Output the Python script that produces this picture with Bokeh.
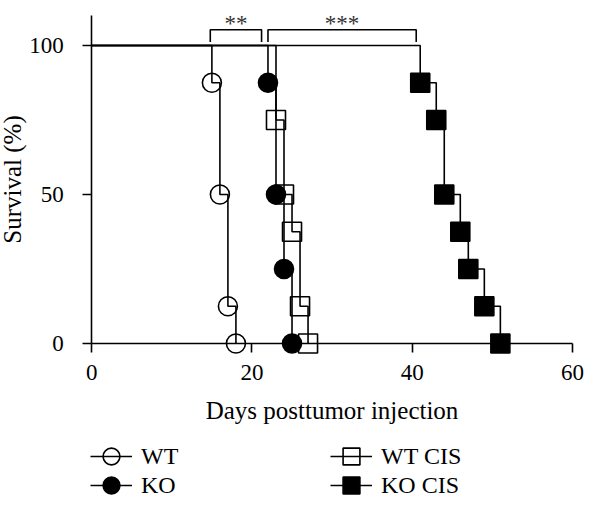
import numpy as np
from bokeh.plotting import figure
from bokeh.models import Range1d, FixedTicker, Legend, LegendItem
from bokeh.core.properties import value
from bokeh.embed import file_html
from bokeh.resources import INLINE

# ---- data ----
start_day = 0
start_surv = 100.0

wt_days = [15, 16, 17, 18]
wt_surv = [87.5, 50.0, 12.5, 0.0]

ko_days = [22, 23, 24, 25]
ko_surv = [87.5, 50.0, 25.0, 0.0]

wtcis_days = [23, 24, 25, 26, 27]
wtcis_surv = [75.0, 50.0, 37.5, 12.5, 0.0]

kocis_days = [41, 43, 44, 46, 47, 49, 51]
kocis_surv = [87.5, 75.0, 50.0, 37.5, 25.0, 12.5, 0.0]

x_ticks = [0, 20, 40, 60]
y_ticks = [0, 50, 100]

sig_labels = ["**", "***"]
sig_left = [14.8, 22.0]
sig_right = [21.2, 40.5]

FONT = "Liberation Serif"

p = figure(width=584, height=499, output_backend="svg", toolbar_location=None,
           x_range=Range1d(-11.38, 61.50), y_range=Range1d(-52.35, 113.76),
           min_border_left=0, min_border_right=0, min_border_top=4, min_border_bottom=0)
p.xgrid.visible = False
p.ygrid.visible = False
p.outline_line_color = None
p.background_fill_color = "white"

LW = 1.6

def steps(days, surv):
    return np.concatenate([[start_day], days]), np.concatenate([[start_surv], surv])

series = [
    ("WT", wt_days, wt_surv, "circle", None),
    ("WT CIS", wtcis_days, wtcis_surv, "square", None),
    ("KO", ko_days, ko_surv, "circle", "black"),
    ("KO CIS", kocis_days, kocis_surv, "square", "black"),
]
rends = {}
for name, d, s, mk, fc in series:
    xs, ys = steps(d, s)
    lr = p.step(xs, ys, mode="after", line_color="black", line_width=LW)
    sr = p.scatter(d, s, marker=mk, size=19, line_color="black", line_width=LW,
                   fill_color=fc if fc else None, fill_alpha=1.0 if fc else 0.0)
    rends[name] = [lr, sr]

# significance brackets
top = 105.3
bot = 101.2
bxs = [[l, l, r, r] for l, r in zip(sig_left, sig_right)]
bys = [[bot, top, top, bot] for _ in sig_left]
p.multi_line(bxs, bys, line_color="black", line_width=LW)
p.text(x=[(l + r) / 2 for l, r in zip(sig_left, sig_right)], y=[107.4] * 2, text=sig_labels,
       text_font=value(FONT), text_font_size="23px", text_align="center",
       text_baseline="alphabetic", text_color="#333333")

# axes
xa = p.xaxis[0]
xa.fixed_location = 0
xa.bounds = (0, 60)
xa.ticker = FixedTicker(ticks=x_ticks)
ya = p.yaxis[0]
ya.fixed_location = 0
ya.bounds = (0, 110)
ya.ticker = FixedTicker(ticks=y_ticks)
for ax in (xa, ya):
    ax.minor_tick_line_color = None
    ax.major_tick_out = 9
    ax.major_tick_in = 0
    ax.axis_line_width = LW
    ax.major_tick_line_width = LW
    ax.axis_line_color = "black"
    ax.major_tick_line_color = "black"
    ax.major_label_text_font = FONT
    ax.major_label_text_font_size = "23px"
    ax.major_label_text_color = "black"
    ax.axis_label_text_font = FONT
    ax.axis_label_text_font_size = "25px"
    ax.axis_label_text_font_style = "normal"
    ax.axis_label_text_color = "black"
xa.axis_label = "Days posttumor injection"
ya.axis_label = "Survival (%)"
xa.major_label_standoff = 13
xa.axis_label_standoff = 13
ya.major_label_standoff = 19
ya.axis_label_standoff = 0

def mk_legend(name, loc):
    lg = Legend(items=[LegendItem(label=name, renderers=rends[name])],
                location=loc, orientation="vertical",
                glyph_width=42, glyph_height=42, label_height=20, spacing=0,
                label_standoff=9, padding=0, margin=0,
                border_line_color=None, background_fill_alpha=0,
                label_text_font=FONT, label_text_font_size="24px",
                label_text_color="black")
    p.add_layout(lg, "center")

mk_legend("WT", (90, 22))
mk_legend("KO", (90, -7))
mk_legend("WT CIS", (330, 22))
mk_legend("KO CIS", (330, -7))

open("out.html", "w").write(file_html(p, INLINE))
